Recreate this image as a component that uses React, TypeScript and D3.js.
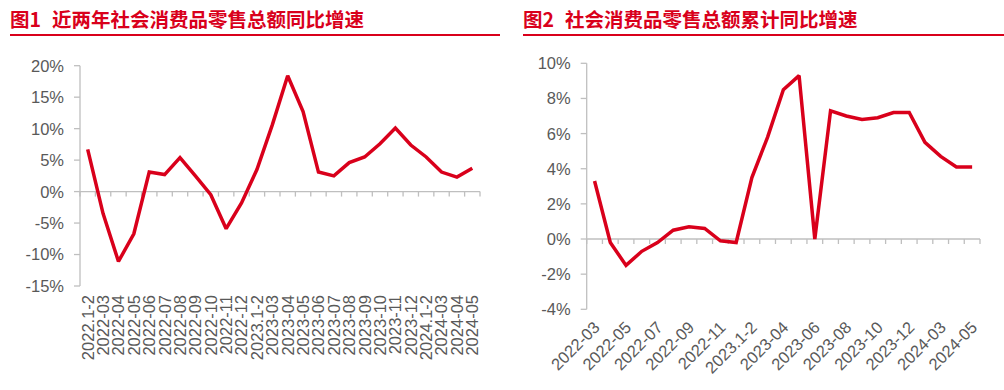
import React from "react";
import * as d3 from "d3";

// 图1 月度同比
const leftCats = [
  "2022.1-2", "2022-03", "2022-04", "2022-05", "2022-06", "2022-07", "2022-08", "2022-09",
  "2022-10", "2022-11", "2022-12", "2023.1-2", "2023-03", "2023-04", "2023-05", "2023-06",
  "2023-07", "2023-08", "2023-09", "2023-10", "2023-11", "2023-12", "2024.1-2", "2024-03",
  "2024-04", "2024-05",
];
const leftValues = [
  6.7, -3.5, -11.1, -6.7, 3.1, 2.7, 5.4, 2.5, -0.5, -5.9, -1.8, 3.5, 10.6, 18.4, 12.7, 3.1,
  2.5, 4.6, 5.5, 7.6, 10.1, 7.4, 5.5, 3.1, 2.3, 3.7,
];
const leftTicks = [20, 15, 10, 5, 0, -5, -10, -15];

// 图2 累计同比
const rightCats = [
  "2022-03", "2022-04", "2022-05", "2022-06", "2022-07", "2022-08", "2022-09", "2022-10",
  "2022-11", "2022-12", "2023.1-2", "2023-03", "2023-04", "2023-05", "2023-06", "2023-07",
  "2023-08", "2023-09", "2023-10", "2023-11", "2023-12", "2024.1-2", "2024-03", "2024-04",
  "2024-05",
];
const rightValues = [
  3.3, -0.2, -1.5, -0.7, -0.2, 0.5, 0.7, 0.6, -0.1, -0.2, 3.5, 5.8, 8.5, 9.3, 0, 7.3, 7.0,
  6.8, 6.9, 7.2, 7.2, 5.5, 4.7, 4.1, 4.1,
];
const rightLabels = [
  "2022-03", "2022-05", "2022-07", "2022-09", "2022-11", "2023.1-2", "2023-04", "2023-06",
  "2023-08", "2023-10", "2023-12", "2024-03", "2024-05",
];
const rightTicks = [10, 8, 6, 4, 2, 0, -2, -4];

const RED = "#D9001B";
const AXIS = "#BFBFBF";
const TEXT = "#595959";
const NUM_FONT = "'Liberation Sans', Arial, sans-serif";
const CJK_FONT = "'Noto Sans CJK SC', sans-serif";

type PanelProps = {
  cats: string[];
  values: number[];
  ticks: number[];
  labels: string[];
  x0: number;
  x1: number;
  yTop: number;
  yBottom: number;
  rotate: number;
};

const Panel = ({ cats, values, ticks, labels, x0, x1, yTop, yBottom, rotate }: PanelProps) => {
  const x = d3.scaleBand().domain(cats).range([x0, x1]).paddingInner(0).paddingOuter(0);
  const y = d3.scaleLinear().domain([d3.min(ticks)!, d3.max(ticks)!]).range([yBottom, yTop]);
  const bw = x.bandwidth();
  const cx = (c: string) => x(c)! + bw / 2;

  const line = d3
    .line<number>()
    .x((_, i) => cx(cats[i]))
    .y((d) => y(d));

  const y0 = y(0);

  return (
    <g>
      {/* y axis */}
      <line x1={x0} x2={x0} y1={yTop} y2={yBottom} stroke={AXIS} strokeWidth={1.3} />
      {ticks.map((t) => (
        <g key={t}>
          <line x1={x0 - 6} x2={x0} y1={y(t)} y2={y(t)} stroke={AXIS} strokeWidth={1.3} />
          <text
            x={x0 - 16}
            y={y(t)}
            dy="0.36em"
            textAnchor="end"
            fontFamily={NUM_FONT}
            fontSize={16.5}
            fill={TEXT}
          >
            {t}%
          </text>
        </g>
      ))}
      {/* x axis at zero */}
      <line x1={x0} x2={x1} y1={y0} y2={y0} stroke={AXIS} strokeWidth={1.3} />
      {d3.range(cats.length + 1).map((i) => (
        <line key={i} x1={x0 + i * bw} x2={x0 + i * bw} y1={y0} y2={y0 + 5} stroke={AXIS} strokeWidth={1.3} />
      ))}
      {/* labels */}
      {cats
        .filter((c) => labels.includes(c))
        .map((c) =>
          rotate === -90 ? (
            <text
              key={c}
              transform={`translate(${cx(c)},${yBottom + 9}) rotate(-90)`}
              dy="0.36em"
              textAnchor="end"
              fontFamily={NUM_FONT}
              fontSize={16.5}
              fill={TEXT}
            >
              {c}
            </text>
          ) : (
            <text
              key={c}
              transform={`translate(${cx(c) + 2},${yBottom + 15}) rotate(-45)`}
              dy="0.36em"
              textAnchor="end"
              fontFamily={NUM_FONT}
              fontSize={16.5}
              fill={TEXT}
            >
              {c}
            </text>
          )
        )}
      <path d={line(values) ?? ""} fill="none" stroke={RED} strokeWidth={3.5} strokeLinejoin="miter" strokeMiterlimit={2} />
    </g>
  );
};

const Title = ({ x, num, text, lineX0, lineX1 }: { x: number; num: string; text: string; lineX0: number; lineX1: number }) => (
  <g>
    <text x={x} y={27} fontFamily={CJK_FONT} fontWeight="bold" fontSize={19.5} fill={RED}>
      {num}
    </text>
    <text x={x + 42} y={27} fontFamily={CJK_FONT} fontWeight="bold" fontSize={19.5} fill={RED}>
      {text}
    </text>
    <line x1={lineX0} x2={lineX1} y1={35} y2={35} stroke={RED} strokeWidth={2} />
  </g>
);

export default function App() {
  return (
    <div style={{ position: "absolute", left: 0, top: 0 }}>
      <svg width={1004} height={390} style={{ display: "block", background: "#fff" }}>
        <Title x={10} num="图1" text="近两年社会消费品零售总额同比增速" lineX0={10} lineX1={500} />
        <Title x={523} num="图2" text="社会消费品零售总额累计同比增速" lineX0={523} lineX1={1004} />
        <Panel
          cats={leftCats}
          values={leftValues}
          ticks={leftTicks}
          labels={leftCats}
          x0={80}
          x1={480}
          yTop={65.7}
          yBottom={286}
          rotate={-90}
        />
        <Panel
          cats={rightCats}
          values={rightValues}
          ticks={rightTicks}
          labels={rightLabels}
          x0={586.7}
          x1={980}
          yTop={63.3}
          yBottom={309.3}
          rotate={-45}
        />
      </svg>
    </div>
  );
}
